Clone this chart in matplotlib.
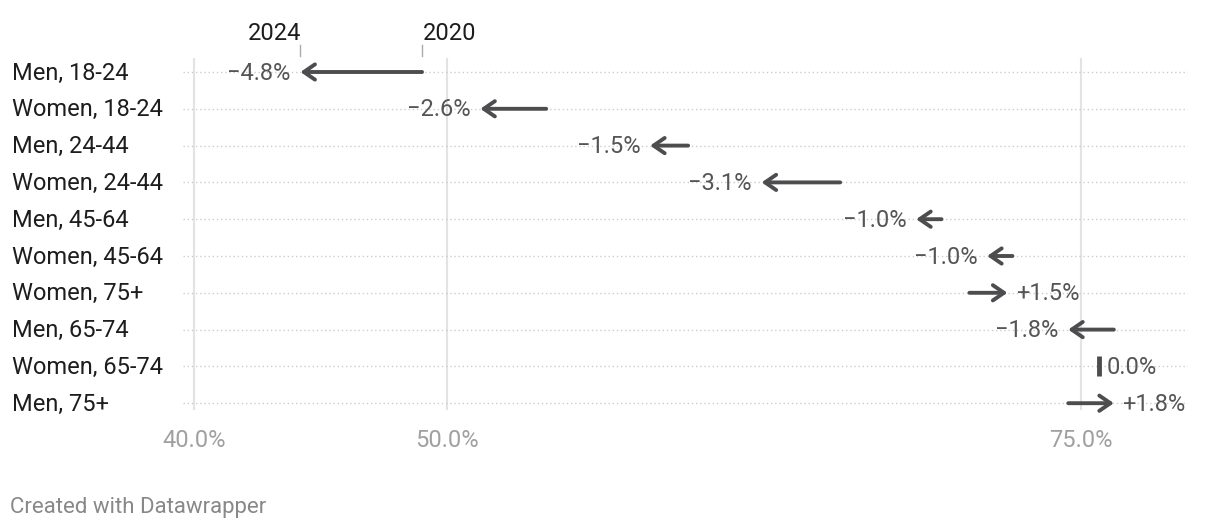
import matplotlib
matplotlib.use("Agg")
import matplotlib.pyplot as plt

categories = ["Men, 18-24", "Women, 18-24", "Men, 24-44", "Women, 24-44", "Men, 45-64",
              "Women, 45-64", "Women, 75+", "Men, 65-74", "Women, 65-74", "Men, 75+"]
v2020 = [49.0, 53.9, 59.5, 65.5, 69.5, 72.3, 70.6, 76.3, 75.7, 74.5]
v2024 = [44.2, 51.3, 58.0, 62.4, 68.5, 71.3, 72.1, 74.5, 75.7, 76.3]
changes = ["−4.8%", "−2.6%", "−1.5%", "−3.1%", "−1.0%", "−1.0%", "+1.5%", "−1.8%", "0.0%", "+1.8%"]
xticks = [40, 50, 75]
xticklabels = ["40.0%", "50.0%", "75.0%"]

plt.rcParams['font.family'] = ['Roboto', 'DejaVu Sans']
FS = 17
fig = plt.figure(figsize=(12.2, 5.3), dpi=100)
ax = fig.add_axes([183/1220, 1-410/530, (1188-183)/1220, (410-58)/530])
ax.set_xlim(40 + (183-194)/25.34, 40 + (1188-194)/25.34)
ax.set_ylim((410-72)/36.8, (58-72)/36.8)
for s in ax.spines.values():
    s.set_visible(False)
ax.tick_params(length=0)
ax.set_yticks([])
for i, c in enumerate(categories):
    fig.text(12/1220, 1-(73+36.8*i)/530, c, ha='left', va='center', fontsize=FS, color='#1d1d1d')
ax.set_xticks(xticks)
ax.set_xticklabels(xticklabels, fontsize=FS, color='#a0a0a0')
ax.tick_params(axis='x', pad=14)
for x in xticks:
    ax.axvline(x, color='#e3e3e3', lw=1.5, zorder=0)
for i in range(len(categories)):
    ax.axhline(i, color='#cccccc', lw=1, ls=(0, (1, 2)), zorder=0)

col = '#4d4d4f'
lcol = '#555555'
for i, (a, b, lab) in enumerate(zip(v2020, v2024, changes)):
    if a == b:
        ax.plot([a, a], [i-0.27, i+0.27], color=col, lw=3.5, solid_capstyle='butt')
        ax.annotate(lab, (a, i + 0.03), xytext=(6, 0), textcoords='offset points', ha='left', va='center',
                    fontsize=FS, color=lcol)
        continue
    ax.annotate('', xy=(b, i), xytext=(a, i),
                arrowprops=dict(arrowstyle='->,head_length=0.8,head_width=0.55', color=col, lw=2.8,
                                shrinkA=0, shrinkB=0, capstyle='round', joinstyle='round'))
    if b < a:
        ax.annotate(lab, (b, i + 0.03), xytext=(-7, 0), textcoords='offset points', ha='right', va='center',
                    fontsize=FS, color=lcol)
    else:
        ax.annotate(lab, (b, i + 0.03), xytext=(6, 0), textcoords='offset points', ha='left', va='center',
                    fontsize=FS, color=lcol)

# top labels for first row
tr = ax.transData
for v, t, ha, dx in [(v2024[0], "2024", 'right', 1), (v2020[0], "2020", 'left', 1)]:
    px = tr.transform((v, 0))[0]
    fig.text((px + dx)/1220, 1-34/530, t, ha=ha, va='center', fontsize=FS, color='#1d1d1d')
    fig.add_artist(plt.Line2D([px/1220, px/1220], [1-45/530, 1-56/530], color='#aaaaaa', lw=1))

fig.text(10/1220, 1-507/530, "Created with Datawrapper", ha='left', va='center', fontsize=16, color='#888888')
fig.savefig('out.png', dpi=100)
